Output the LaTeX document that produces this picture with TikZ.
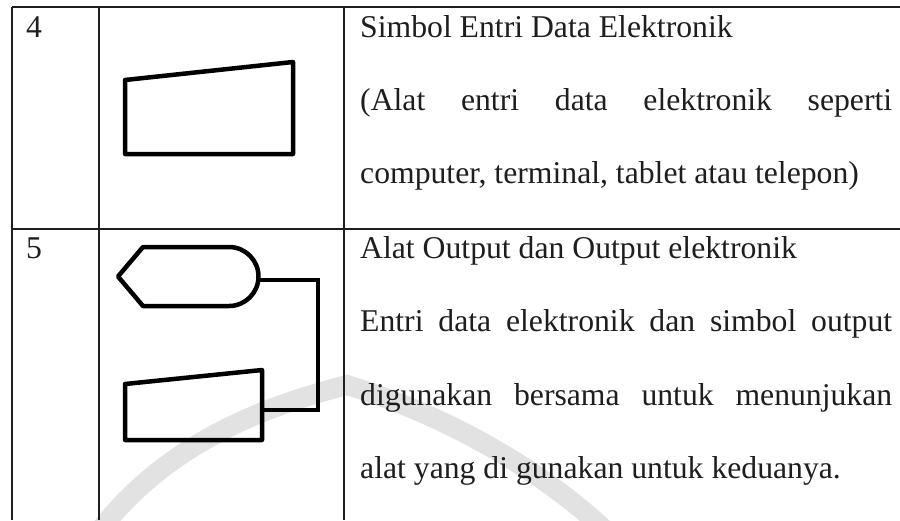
\documentclass[tikz,border=0pt]{standalone}
\usepackage{fontspec}
\setmainfont{Liberation Serif}
\definecolor{ink}{HTML}{1E1E1E}
\definecolor{wm}{HTML}{E2E2E2}
\tikzset{
  grid/.style={draw=ink, line width=2pt},
  symb/.style={draw=black, line width=4.5pt, line join=round},
  conn/.style={draw=black, line width=4.5pt, line join=miter},
  txt/.style={anchor=base west, inner sep=0pt, text=ink, font=\fontsize{31.7}{38}\selectfont},
  water/.style={draw=wm, line width=20pt}
}
\begin{document}
\begin{tikzpicture}[x=1pt,y=-1pt]
\useasboundingbox (0,0) rectangle (900,520);
% watermark
\draw[water] (100,530) .. controls (170,440) and (270,405) .. (347,385)
  .. controls (430,410) and (530,460) .. (605,530);
% table grid
\draw[grid] (12,7) -- (900,7);
\draw[grid] (12,229) -- (900,229);
\draw[grid] (12,7) -- (12,520);
\draw[grid] (99,7) -- (99,520);
\draw[grid] (344,7) -- (344,520);
% numbers
\node[txt] (n4) at (26,37) {4};
\node[txt] (n5) at (26,258) {5};
% row 4 symbol
\draw[symb] (125,80) -- (293,62) -- (293,154) -- (125,154) -- cycle;
% row 5 symbols
\draw[symb] (118,276.5) -- (143,247) -- (229,247) arc (90:-90:29.5pt) -- (143,306) -- cycle;
\coordinate (dispR) at (258.5,280);
\draw[symb] (125,384) -- (262,370) -- (262,440) -- (125,440) -- cycle;
\coordinate (trapR) at (262,410);
\coordinate (c1) at (318,280);
\coordinate (c2) at (318,410);
\draw[conn] (dispR) -- (c1) -- (c2) -- (trapR);
% texts row 4
\node[txt] (t41) at (360,37) {Simbol Entri Data Elektronik};
\node[txt] (t42) at (360,110) {\makebox[532pt][s]{(Alat entri data elektronik seperti}};
\node[txt] (t43) at (360,183) {computer, terminal, tablet atau telepon)};
% texts row 5
\node[txt] (t51) at (360,258) {Alat Output dan Output elektronik};
\node[txt] (t52) at (360,331) {\makebox[532pt][s]{Entri data elektronik dan simbol output}};
\node[txt] (t53) at (360,405) {\makebox[532pt][s]{digunakan bersama untuk menunjukan}};
\node[txt] (t54) at (360,478) {alat yang di gunakan untuk keduanya.};
\end{tikzpicture}
\end{document}
